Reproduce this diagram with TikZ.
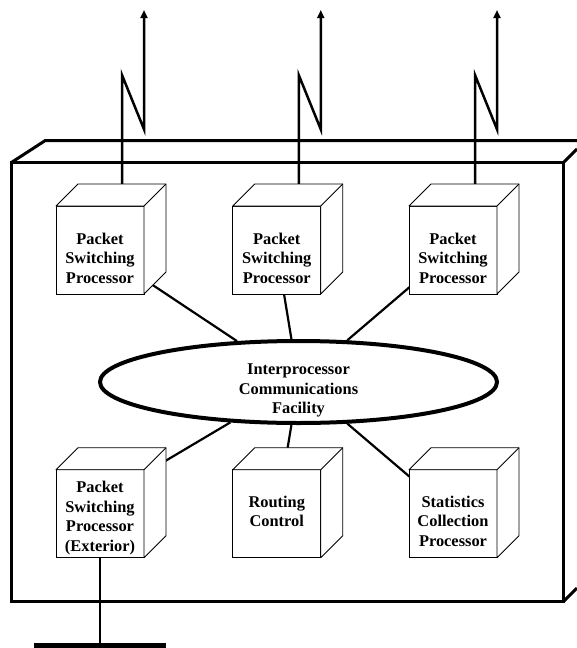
\documentclass[tikz,border=0pt]{standalone}
\usepackage{fontspec}
\setmainfont{Liberation Serif}
\usetikzlibrary{shapes.geometric,arrows.meta,backgrounds,calc}
\begin{document}
\begin{tikzpicture}[x=1pt,y=-1pt,
  cube/.style={draw, fill=white, line width=0.8pt, minimum width=88pt, minimum height=88pt, inner sep=0pt, outer sep=0pt},
  face/.style={draw, fill=white, line width=0.8pt, line join=round},
  lbl/.style={font=\fontsize{16.4}{19.5}\selectfont\bfseries, align=center, inner sep=0pt},
  conn/.style={line width=2.2pt},
  ant/.style={line width=2.5pt},
  antarrow/.style={line width=2.5pt, -{Triangle[length=8pt,width=7pt]}},
  outer/.style={line width=3pt},
  ground/.style={line width=4.7pt},
  ellbox/.style={draw, ellipse, fill=white, line width=4pt, minimum width=397pt, minimum height=82pt, inner sep=0pt}
]
\useasboundingbox (0,0) rectangle (577,648);

% processor cubes (front faces)
\node[cube] (b1) at (100,250) {};
\node[cube] (b2) at (276.75,250) {};
\node[cube] (b3) at (453,250) {};
\node[cube] (b4) at (100,513.7) {};
\node[cube] (b5) at (276.75,513.7) {};
\node[cube] (b6) at (453,513.7) {};

% top and side faces
\foreach \n in {b1,b2,b3,b4,b5,b6}{
  \filldraw[face] (\n.north west) -- ++(22,-22) -- ++(88,0) -- ++(0,88) -- (\n.south east) -- (\n.north east) -- cycle;
  \draw[face] (\n.north east) -- ++(22,-22);
}

% labels
\node[lbl] (t1) at (100,258) {Packet\\Switching\\Processor};
\node[lbl] (t2) at (276.75,258) {Packet\\Switching\\Processor};
\node[lbl] (t3) at (453,258) {Packet\\Switching\\Processor};
\node[lbl] (t4) at (100,518) {Packet\\Switching\\Processor\\(Exterior)};
\node[lbl] (t5) at (276.75,511.5) {Routing\\Control};
\node[lbl] (t6) at (453,521) {Statistics\\Collection\\Processor};

% interprocessor facility
\node[ellbox] (ell) at (298.5,382) {};
\node[lbl] (ict) at (298.5,390.4) {Interprocessor\\Communications\\Facility};

% free ends
\coordinate (a1) at (144,10);
\coordinate (a2) at (320.75,10);
\coordinate (a3) at (497,10);
\coordinate (g1) at (34.3,645.5);
\coordinate (g2) at (165.7,645.5);

\begin{scope}[on background layer]
  % outer enclosure
  \draw[outer] (11.7,162.3) rectangle (563.7,601.3);
  \draw[outer] (11.7,162.3) -- (45,140.7) -- (577,140.7);
  \draw[outer] (563.7,162.3) -- (577,149);
  \draw[outer] (563.7,601.3) -- (577,588);
  % connectors to the facility
  \draw[conn] (b1.center) -- (ell);
  \draw[conn] (b2.center) -- (ell);
  \draw[conn] (b3.center) -- (ell);
  \draw[conn] ([yshift=14pt]b4.center) -- (ell);
  \draw[conn] (b5.center) -- (ell);
  \draw[conn] (b6.center) -- (ell);
  % radio links
  \draw[antarrow] ([shift={(22,-22)}]b1.north) -- ++(0,-109) -- ++(22,54.3) -- (a1);
  \draw[antarrow] ([shift={(22,-22)}]b2.north) -- ++(0,-109) -- ++(22,54.3) -- (a2);
  \draw[antarrow] ([shift={(22,-22)}]b3.north) -- ++(0,-109) -- ++(22,54.3) -- (a3);
  % exterior link
  \draw[ant] (b4.south) -- (b4.south |- g1);
  \draw[ground] (g1) -- (g2);
\end{scope}
\end{tikzpicture}
\end{document}
